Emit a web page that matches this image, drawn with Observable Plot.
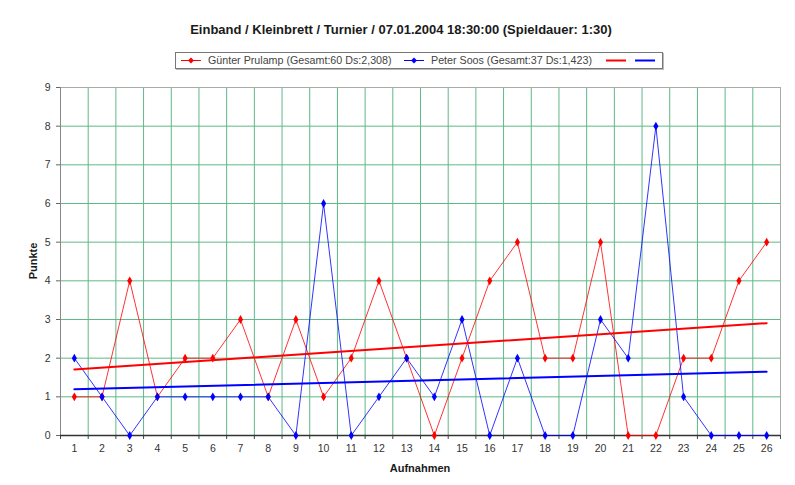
<!DOCTYPE html>
<html>
<head>
<meta charset="utf-8">
<script src="https://cdn.jsdelivr.net/npm/d3@7"></script>
<script src="https://cdn.jsdelivr.net/npm/@observablehq/plot@0.6"></script>
<style>
  body { margin: 0; background: #fff; font-family: "Liberation Sans", Arial, sans-serif; }
  #wrap { position: relative; width: 795px; height: 485px; overflow: hidden; background: #fff; }
  #title { position: absolute; left: 0; width: 802px; top: 22px; text-align: center; font-weight: bold; font-size: 13px; color: #1a1a1a; }
  #legend { position: absolute; left: 175px; top: 52px; width: 486px; height: 15px; border: 1px solid #777; box-shadow: 1px 1px 0 #bbb; font-size: 10.7px; color: #444; white-space: nowrap; }
  #legend .it { position: absolute; top: 1px; line-height: 13px; }
  #legend svg { position: absolute; top: 0; }
  #chart { position: absolute; left: 0; top: 75px; }
  #ylab { position: absolute; left: 33px; top: 261px; transform: translate(-50%, -50%) rotate(-90deg); font-weight: bold; font-size: 11px; color: #1a1a1a; }
  #xlab { position: absolute; left: 0; width: 840px; top: 462px; text-align: center; font-weight: bold; font-size: 11px; color: #1a1a1a; }
</style>
</head>
<body>
<div id="wrap">
  <div id="title"></div>
  <div id="legend"></div>
  <div id="chart"></div>
  <div id="ylab"></div>
  <div id="xlab"></div>
</div>
<script>
const titleText = "Einband / Kleinbrett / Turnier / 07.01.2004 18:30:00 (Spieldauer: 1:30)";
const xTitle = "Aufnahmen";
const yTitle = "Punkte";
const aufnahmen = [1,2,3,4,5,6,7,8,9,10,11,12,13,14,15,16,17,18,19,20,21,22,23,24,25,26];
const seriesNames = ["Günter Prulamp (Gesamt:60 Ds:2,308)", "Peter Soos (Gesamt:37 Ds:1,423)"];
const guenter = [1,1,4,1,2,2,3,1,3,1,2,4,2,0,2,4,5,2,2,5,0,0,2,2,4,5];
const peter   = [2,1,0,1,1,1,1,1,0,6,0,1,2,1,3,0,2,0,0,3,2,8,1,0,0,0];
const yTicks = [0,1,2,3,4,5,6,7,8,9];
const colors = ["#ff0000", "#0000ff"];

document.getElementById("title").textContent = titleText;
document.getElementById("xlab").textContent = xTitle;
document.getElementById("ylab").textContent = yTitle;

const dataG = aufnahmen.map((x, i) => ({x, y: guenter[i]}));
const dataP = aufnahmen.map((x, i) => ({x, y: peter[i]}));
const bounds = [aufnahmen[0] - 0.5, ...aufnahmen.map(c => c + 0.5)];
const grid = "#5fb887";

const plot = Plot.plot({
  width: 795,
  height: 410,
  marginLeft: 60,
  marginRight: 15,
  marginTop: 12,
  marginBottom: 50,
  style: { fontFamily: "Liberation Sans, Arial, sans-serif", fontSize: "10.5px", color: "#333", background: "#fff" },
  x: { domain: [bounds[0], bounds[bounds.length - 1]] },
  y: { domain: [yTicks[0], yTicks[yTicks.length - 1]] },
  marks: [
    Plot.gridX(bounds.slice(1, -1), { stroke: grid, strokeOpacity: 1, strokeWidth: 1 }),
    Plot.gridY(yTicks.slice(1, -1), { stroke: grid, strokeOpacity: 1, strokeWidth: 1 }),
    Plot.ruleY([yTicks[yTicks.length - 1]], { stroke: "#aaa" }),
    Plot.ruleX([bounds[bounds.length - 1]], { stroke: "#aaa" }),
    Plot.ruleX([bounds[0]], { stroke: "#888" }),
    Plot.axisY({ ticks: yTicks, tickSize: 4, tickPadding: 6, label: null, stroke: "#666", fill: "#333" }),
    Plot.axisX({ ticks: bounds, tickSize: 4, tickFormat: () => "", label: null, stroke: "#444" }),
    Plot.axisX({ ticks: aufnahmen, tickSize: 0, tickPadding: 9, label: null, fill: "#333" }),
    Plot.ruleY([yTicks[0]], { stroke: "#333", strokeWidth: 1.5 }),
    Plot.line(dataG, { x: "x", y: "y", stroke: colors[0], strokeWidth: 1, strokeOpacity: 0.8 }),
    Plot.line(dataP, { x: "x", y: "y", stroke: colors[1], strokeWidth: 1, strokeOpacity: 0.8 }),
    Plot.linearRegressionY(dataG, { x: "x", y: "y", stroke: colors[0], strokeWidth: 2, ci: 0 }),
    Plot.linearRegressionY(dataP, { x: "x", y: "y", stroke: colors[1], strokeWidth: 2, ci: 0 }),
    Plot.dot(dataG, { x: "x", y: "y", symbol: "diamond", r: 2.7, fill: colors[0], stroke: "none" }),
    Plot.dot(dataP, { x: "x", y: "y", symbol: "diamond", r: 2.7, fill: colors[1], stroke: "none" })
  ]
});
document.getElementById("chart").appendChild(plot);

// legend
const legend = document.getElementById("legend");
function sample(left, color, marker) {
  const ns = "http://www.w3.org/2000/svg";
  const s = document.createElementNS(ns, "svg");
  s.setAttribute("width", 24); s.setAttribute("height", 15);
  s.style.left = left + "px";
  const l = document.createElementNS(ns, "line");
  l.setAttribute("x1", 2); l.setAttribute("x2", 22); l.setAttribute("y1", 7.5); l.setAttribute("y2", 7.5);
  l.setAttribute("stroke", color); l.setAttribute("stroke-width", marker ? 1 : 2);
  s.appendChild(l);
  if (marker) {
    const p = document.createElementNS(ns, "path");
    p.setAttribute("d", "M12,4.5L15,7.5L12,10.5L9,7.5Z");
    p.setAttribute("fill", color);
    s.appendChild(p);
  }
  legend.appendChild(s);
}
function label(left, text) {
  const d = document.createElement("div");
  d.className = "it"; d.style.left = left + "px"; d.textContent = text;
  legend.appendChild(d);
}
sample(3, colors[0], true);
label(32, seriesNames[0]);
sample(226, colors[1], true);
label(255, seriesNames[1]);
sample(428, colors[0], false);
sample(457, colors[1], false);
</script>
</body>
</html>
